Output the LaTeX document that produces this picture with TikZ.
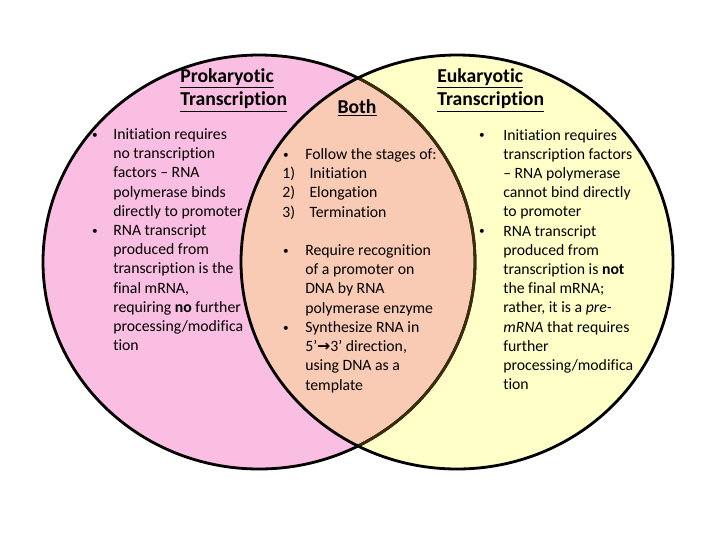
\documentclass[tikz,border=0pt]{standalone}
\usepackage{fontspec}
\setmainfont{Carlito}[Ligatures=NoCommon]
\newfontfamily\arrowfont{DejaVu Sans}

\definecolor{prokpink}{RGB}{250,190,226}
\definecolor{eukyellow}{RGB}{255,255,200}
\definecolor{bothpeach}{RGB}{250,203,180}
\definecolor{lensedge}{RGB}{60,45,10}

\newcommand\titlefont{\fontsize{14}{17}\selectfont\bfseries}
\newcommand\bodyfont{\fontsize{11.2}{13.66}\selectfont}
\newcommand\lineblock[1]{\begin{tabular}[t]{@{}l@{}}#1\end{tabular}}

\tikzset{
  ring/.style={line width=2pt},
  ttl/.style={anchor=base west, inner sep=0pt, font=\titlefont},
  body/.style={anchor=base west, inner sep=0pt, font=\bodyfont},
  dotmark/.style={anchor=base, inner sep=0pt, font=\fontsize{8}{10}\selectfont},
  nummark/.style={anchor=base west, inner sep=0pt, font=\bodyfont}
}

\begin{document}
\begin{tikzpicture}[x=0.025cm,y=-0.025cm]
    \useasboundingbox (0,0) rectangle (720,540);

    % Circles
    \fill[prokpink] (259,262) ellipse [x radius=216, y radius=207];
    \fill[eukyellow] (457,262) ellipse [x radius=216, y radius=207];
    \begin{scope}
        \clip (259,262) ellipse [x radius=216, y radius=207];
        \fill[bothpeach] (457,262) ellipse [x radius=216, y radius=207];
    \end{scope}
    \draw[ring] (259,262) ellipse [x radius=216, y radius=207];
    \begin{scope}
        \clip (457,262) ellipse [x radius=216, y radius=207];
        \draw[ring, lensedge] (259,262) ellipse [x radius=216, y radius=207];
    \end{scope}
    \draw[ring] (457,262) ellipse [x radius=216, y radius=207];

    % Titles
    \node[ttl] (prok) at (180,82) {\lineblock{\underline{Prokaryotic}\\ \underline{Transcription}}};
    \node[ttl, anchor=base] (both) at (357,113) {\underline{Both}};
    \node[ttl] (euk) at (437,82) {\lineblock{\underline{Eukaryotic}\\ \underline{Transcription}}};

    % Prokaryotic
    \node[dotmark] (pb1) at (95,138) {•};
    \node[dotmark] (pb2) at (95,234) {•};
    \node[body] (prokText) at (113,139.5) {\lineblock{%
        Initiation requires\\ no transcription\\ factors – RNA\\
        polymerase binds\\ directly to promoter\\ RNA transcript\\
        produced from\\ transcription is the\\ final mRNA,\\
        requiring \textbf{no} further\\ processing/modifica\\ tion}};

    % Both
    \node[dotmark] (bb1) at (286,158) {•};
    \node[nummark] (bn1) at (282,178.7) {1)};
    \node[nummark] (bn2) at (282,197.9) {2)};
    \node[nummark] (bn3) at (282,217.1) {3)};
    \node[dotmark] (bb2) at (286,254) {•};
    \node[dotmark] (bb3) at (286,331) {•};
    \node[body] (bothText) at (305,159.5) {\lineblock{%
        Follow the stages of:\\ \hspace{3pt}Initiation\\
        \hspace{3pt}Elongation\\ \hspace{3pt}Termination\\ \\
        Require recognition\\ of a promoter on\\ DNA by RNA\\
        polymerase enzyme\\ Synthesize RNA in\\
        5’{\arrowfont\bfseries →}3’ direction,\\ using DNA as a\\ template}};

    % Eukaryotic
    \node[dotmark] (eb1) at (482,138.5) {•};
    \node[dotmark] (eb2) at (482,234.5) {•};
    \node[body] (eukText) at (503,140) {\lineblock{%
        Initiation requires\\ transcription factors\\ – RNA polymerase\\
        cannot bind directly\\ to promoter\\ RNA transcript\\
        produced from\\ transcription is \textbf{not}\\ the final mRNA;\\
        rather, it is a \textit{pre-}\\ \textit{mRNA} that requires\\
        further\\ processing/modifica\\ tion}};
\end{tikzpicture}
\end{document}
